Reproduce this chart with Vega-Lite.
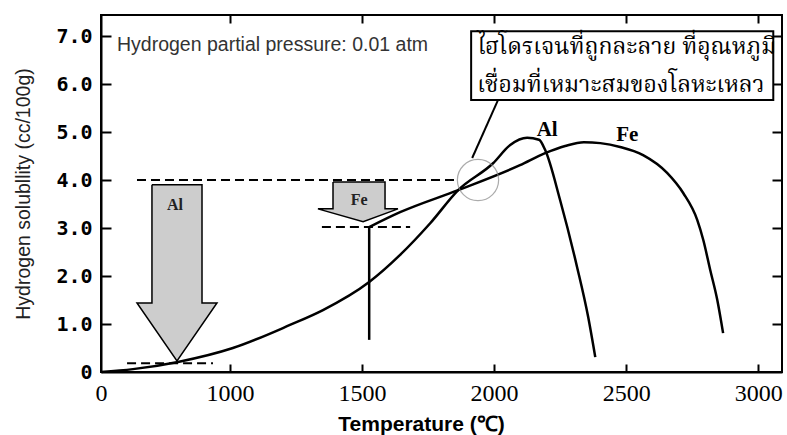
{
  "$schema": "https://vega.github.io/schema/vega-lite/v6.json",
  "width": 681,
  "height": 357,
  "autosize": {"type": "none"},
  "padding": {"left": 101, "top": 15, "right": 5, "bottom": 63},
  "background": "white",
  "config": {"view": {"stroke": "black", "strokeWidth": 2}, "axis": {"grid": false}},
  "datasets": {
    "arrows": [
      {"g": "Al", "i": 1, "t": 395, "v": 3.9},
      {"g": "Al", "i": 2, "t": 783, "v": 3.9},
      {"g": "Al", "i": 3, "t": 783, "v": 1.44},
      {"g": "Al", "i": 4, "t": 899, "v": 1.44},
      {"g": "Al", "i": 5, "t": 589, "v": 0.23},
      {"g": "Al", "i": 6, "t": 279, "v": 1.44},
      {"g": "Al", "i": 7, "t": 395, "v": 1.44},
      {"g": "Al", "i": 8, "t": 395, "v": 3.9},
      {"g": "Fe", "i": 1, "t": 1390, "v": 3.96},
      {"g": "Fe", "i": 2, "t": 1587, "v": 3.96},
      {"g": "Fe", "i": 3, "t": 1587, "v": 3.4},
      {"g": "Fe", "i": 4, "t": 1636, "v": 3.4},
      {"g": "Fe", "i": 5, "t": 1504, "v": 3.13},
      {"g": "Fe", "i": 6, "t": 1333, "v": 3.4},
      {"g": "Fe", "i": 7, "t": 1390, "v": 3.4},
      {"g": "Fe", "i": 8, "t": 1390, "v": 3.96}
    ],
    "dashes": [
      {"t1": 279, "t2": 1852, "v": 4.0},
      {"t1": 1348, "t2": 1682, "v": 3.02},
      {"t1": 202, "t2": 868, "v": 0.18}
    ],
    "curves": [
      {"metal": "Al", "t": 0, "v": 0},
      {"metal": "Al", "t": 248, "v": 0.06},
      {"metal": "Al", "t": 597, "v": 0.21},
      {"metal": "Al", "t": 1011, "v": 0.5},
      {"metal": "Al", "t": 1227, "v": 0.98},
      {"metal": "Al", "t": 1352, "v": 1.29},
      {"metal": "Al", "t": 1527, "v": 1.875},
      {"metal": "Al", "t": 1644, "v": 2.44},
      {"metal": "Al", "t": 1758, "v": 3.1},
      {"metal": "Al", "t": 1864, "v": 3.79},
      {"metal": "Al", "t": 1996, "v": 4.35},
      {"metal": "Al", "t": 2061, "v": 4.73},
      {"metal": "Al", "t": 2125, "v": 4.88},
      {"metal": "Al", "t": 2170, "v": 4.84},
      {"metal": "Al", "t": 2193, "v": 4.63},
      {"metal": "Al", "t": 2250, "v": 3.58},
      {"metal": "Al", "t": 2314, "v": 2.19},
      {"metal": "Al", "t": 2356, "v": 1.15},
      {"metal": "Al", "t": 2383, "v": 0.31},
      {"metal": "Fe", "t": 1527, "v": 3.02},
      {"metal": "Fe", "t": 1644, "v": 3.33},
      {"metal": "Fe", "t": 1864, "v": 3.79},
      {"metal": "Fe", "t": 2098, "v": 4.31},
      {"metal": "Fe", "t": 2193, "v": 4.56},
      {"metal": "Fe", "t": 2269, "v": 4.71},
      {"metal": "Fe", "t": 2340, "v": 4.79},
      {"metal": "Fe", "t": 2402, "v": 4.77},
      {"metal": "Fe", "t": 2477, "v": 4.69},
      {"metal": "Fe", "t": 2564, "v": 4.52},
      {"metal": "Fe", "t": 2655, "v": 4.15},
      {"metal": "Fe", "t": 2716, "v": 3.73},
      {"metal": "Fe", "t": 2769, "v": 3.17},
      {"metal": "Fe", "t": 2792, "v": 2.75},
      {"metal": "Fe", "t": 2818, "v": 2.13},
      {"metal": "Fe", "t": 2845, "v": 1.5},
      {"metal": "Fe", "t": 2867, "v": 0.81}
    ]
  },
  "layer": [
    {
      "data": {"name": "arrows"},
      "mark": {"type": "line", "fill": "#cdcdcd", "stroke": "black", "strokeWidth": 1.5, "strokeJoin": "miter"},
      "encoding": {
        "x": {"field": "t", "type": "quantitative", "axis": null,
              "scale": {"domain": [0, 1000, 3090], "range": [0, 129, 681], "nice": false, "zero": false}},
        "y": {"field": "v", "type": "quantitative", "axis": null,
              "scale": {"domain": [0, 7.44], "nice": false}},
        "detail": {"field": "g"},
        "order": {"field": "i", "type": "quantitative"}
      }
    },
    {
      "data": {"name": "dashes"},
      "mark": {"type": "rule", "color": "black", "strokeWidth": 2, "strokeDash": [9, 5]},
      "encoding": {
        "x": {"field": "t1", "type": "quantitative", "axis": null},
        "x2": {"field": "t2"},
        "y": {"field": "v", "type": "quantitative", "axis": null}
      }
    },
    {
      "data": {"values": [{"t": 1527, "v1": 0.67, "v2": 3.02}]},
      "mark": {"type": "rule", "color": "black", "strokeWidth": 2.5},
      "encoding": {
        "x": {"field": "t", "type": "quantitative", "axis": null},
        "y": {"field": "v1", "type": "quantitative", "axis": null},
        "y2": {"field": "v2"}
      }
    },
    {
      "data": {"name": "curves"},
      "mark": {"type": "line", "color": "black", "strokeWidth": 2.5, "interpolate": "monotone"},
      "encoding": {
        "x": {"field": "t", "type": "quantitative",
              "axis": {"orient": "bottom", "values": [0, 1000, 1500, 2000, 2500, 3000], "format": "d",
                       "labelFont": "Liberation Serif", "labelFontSize": 24, "labelColor": "black", "labelFlush": false,
                       "ticks": false, "labelPadding": 9,
                       "domainColor": "black", "domainWidth": 2,
                       "title": "Temperature (℃)", "titleFont": "Liberation Sans", "titleFontSize": 21,
                       "titleFontWeight": "bold", "titleColor": "black", "titleAnchor": "middle",
                       "titleX": 320, "titleY": 58, "titleBaseline": "alphabetic"}},
        "y": {"field": "v", "type": "quantitative",
              "axis": {"orient": "left", "values": [0, 1, 2, 3, 4, 5, 6, 7],
                       "labelExpr": "datum.value == 0 ? '0' : format(datum.value, '.1f')",
                       "labelFont": "DejaVu Sans Mono", "labelFontWeight": "bold", "labelFontSize": 20,
                       "labelColor": "black", "labelFlush": false,
                       "ticks": false, "labelPadding": 9,
                       "domainColor": "black", "domainWidth": 2,
                       "title": "Hydrogen solubllity (cc/100g)", "titleFont": "Liberation Sans", "titleFontSize": 19.5,
                       "titleFontWeight": "normal", "titleColor": "#222", "titlePadding": 22}},
        "detail": {"field": "metal"}
      }
    },
    {
      "data": {"values": [{"t": 1939, "v": 4.0}]},
      "mark": {"type": "point", "shape": "circle", "size": 1700, "filled": false, "stroke": "#888", "strokeWidth": 1.2},
      "encoding": {
        "x": {"field": "t", "type": "quantitative",
              "axis": {"orient": "top", "offset": -357, "values": [1000, 1500, 2000, 2500, 3000], "labels": false,
                       "tickSize": 8, "tickWidth": 2, "tickColor": "black", "domain": false, "title": null}},
        "y": {"field": "v", "type": "quantitative",
              "axis": {"orient": "right", "offset": -681, "values": [1, 2, 3, 4, 5, 6, 7], "labels": false,
                       "tickSize": 10, "tickWidth": 2, "tickColor": "black", "domain": false, "title": null}}
      }
    },
    {
      "data": {"values": [{"t": 2015, "v": 5.67, "i": 1}, {"t": 1917, "v": 4.46, "i": 2}]},
      "mark": {"type": "line", "color": "black", "strokeWidth": 2},
      "encoding": {
        "x": {"field": "t", "type": "quantitative",
              "axis": {"orient": "bottom", "offset": -357, "values": [1000, 1500, 2000, 2500, 3000], "labels": false,
                       "tickSize": 8, "tickWidth": 2, "tickColor": "black", "domain": false, "title": null}},
        "y": {"field": "v", "type": "quantitative",
              "axis": {"orient": "left", "offset": -681, "values": [1, 2, 3, 4, 5, 6, 7], "labels": false,
                       "tickSize": 10, "tickWidth": 2, "tickColor": "black", "domain": false, "title": null}},
        "order": {"field": "i", "type": "quantitative"}
      }
    },
    {
      "data": {"values": [{"t1": 1913, "t2": 3057, "v1": 5.67, "v2": 7.1}]},
      "mark": {"type": "rect", "fill": "white", "stroke": "black", "strokeWidth": 2},
      "encoding": {
        "x": {"field": "t1", "type": "quantitative", "axis": null},
        "x2": {"field": "t2"},
        "y": {"field": "v1", "type": "quantitative", "axis": null},
        "y2": {"field": "v2"}
      }
    },
    {
      "data": {"values": [
        {"t": 1936, "v": 6.77, "text": "ไฮโดรเจนที่ถูกละลาย ที่อุณหภูมิ"},
        {"t": 1936, "v": 5.98, "text": "เชื่อมที่เหมาะสมของโลหะเหลว"}
      ]},
      "mark": {"type": "text", "align": "left", "baseline": "middle", "fontSize": 23, "color": "black",
               "font": "Noto Serif Thai, Noto Sans Thai, Norasi, Loma, Garuda, serif"},
      "encoding": {
        "x": {"field": "t", "type": "quantitative", "axis": null},
        "y": {"field": "v", "type": "quantitative", "axis": null},
        "text": {"field": "text"}
      }
    },
    {
      "data": {"values": [{"t": 124, "v": 6.81, "text": "Hydrogen partial pressure: 0.01 atm"}]},
      "mark": {"type": "text", "align": "left", "baseline": "middle", "fontSize": 19.5, "color": "#333",
               "font": "Liberation Sans"},
      "encoding": {
        "x": {"field": "t", "type": "quantitative", "axis": null},
        "y": {"field": "v", "type": "quantitative", "axis": null},
        "text": {"field": "text"}
      }
    },
    {
      "data": {"values": [
        {"t": 2201, "v": 5.04, "text": "Al"},
        {"t": 2504, "v": 4.94, "text": "Fe"}
      ]},
      "mark": {"type": "text", "align": "center", "baseline": "middle", "fontSize": 21, "fontWeight": "bold",
               "color": "black", "font": "Liberation Serif"},
      "encoding": {
        "x": {"field": "t", "type": "quantitative", "axis": null},
        "y": {"field": "v", "type": "quantitative", "axis": null},
        "text": {"field": "text"}
      }
    },
    {
      "data": {"values": [
        {"t": 574, "v": 3.48, "text": "Al"},
        {"t": 1489, "v": 3.58, "text": "Fe"}
      ]},
      "mark": {"type": "text", "align": "center", "baseline": "middle", "fontSize": 16, "fontWeight": "bold",
               "color": "#222", "font": "Liberation Serif"},
      "encoding": {
        "x": {"field": "t", "type": "quantitative", "axis": null},
        "y": {"field": "v", "type": "quantitative", "axis": null},
        "text": {"field": "text"}
      }
    }
  ],
  "resolve": {"axis": {"x": "independent", "y": "independent"}}
}
